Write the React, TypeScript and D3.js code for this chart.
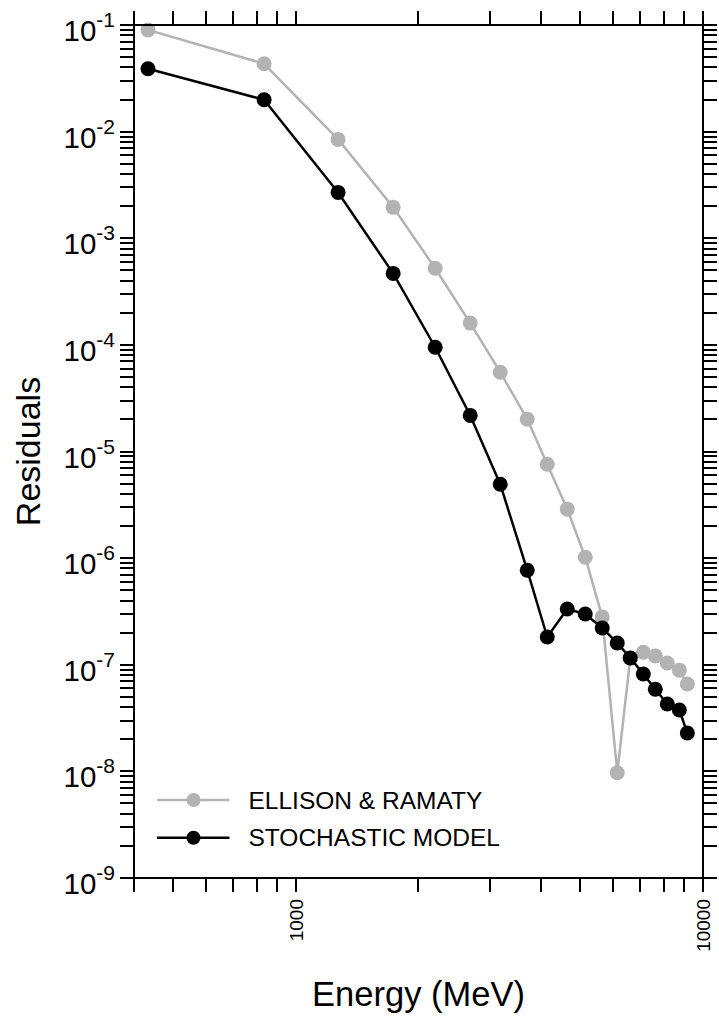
import React from 'react';
import * as d3 from 'd3';

// energy of each point (MeV), shared by both series
const energies = [433, 835, 1269, 1733, 2198, 2680, 3176, 3700, 4143, 4640, 5137, 5655, 6157, 6627, 7134, 7635, 8172, 8747, 9152];
const ellisonRamaty = [9.0e-2, 4.33e-2, 8.45e-3, 1.95e-3, 5.23e-4, 1.6e-4, 5.54e-5, 2.01e-5, 7.6e-6, 2.88e-6, 1.02e-6, 2.8e-7, 9.7e-9, 1.15e-7, 1.31e-7, 1.21e-7, 1.04e-7, 8.9e-8, 6.6e-8];
const stochasticModel = [3.89e-2, 1.99e-2, 2.69e-3, 4.68e-4, 9.5e-5, 2.18e-5, 4.93e-6, 7.7e-7, 1.82e-7, 3.33e-7, 2.99e-7, 2.21e-7, 1.6e-7, 1.16e-7, 8.2e-8, 5.9e-8, 4.28e-8, 3.76e-8, 2.29e-8];
const xLabelValues = [1000, 10000];
const yExponents = [-9, -8, -7, -6, -5, -4, -3, -2, -1];
const minorMultipliers = [1, 2, 3, 4, 5, 6, 7, 8, 9];
const seriesNames = ['ELLISON & RAMATY', 'STOCHASTIC MODEL'];
const seriesColors = ['#b3b3b3', '#000000'];

const font = '"Liberation Sans", Arial, sans-serif';

export default function App() {
    const width = 719;
    const height = 1020;
    const left = 134, right = 703, top = 25, bottom = 878;
    const tickLen = 14;

    const x = d3.scaleLog().domain([400, 10000]).range([left, right]);
    const y = d3.scaleLog().domain([1e-9, 1e-1]).range([bottom, top]);

    const xTicks = x.ticks();
    // every decade gets ticks at 1..9, the last decade stops at its major tick
    const yTicks = yExponents.flatMap(e =>
        e === -1 ? [0.1] : minorMultipliers.map(k => k * Math.pow(10, e)));

    // all tick marks in one path, snapped to whole pixels so they stay crisp
    const tp = d3.path();
    xTicks.forEach(t => {
        const px = Math.round(x(t));
        tp.moveTo(px, bottom); tp.lineTo(px, bottom + tickLen);
        tp.moveTo(px, top); tp.lineTo(px, top - tickLen);
    });
    yTicks.forEach(t => {
        const py = Math.round(y(t));
        tp.moveTo(left, py); tp.lineTo(left - tickLen, py);
        tp.moveTo(right, py); tp.lineTo(right + tickLen, py);
    });

    const line = d3.line<[number, number]>()
        .x(d => x(d[0]))
        .y(d => y(d[1]));

    const series = [ellisonRamaty, stochasticModel].map((vals, i) => ({
        name: seriesNames[i],
        color: seriesColors[i],
        points: energies.map((e, j) => [e, vals[j]] as [number, number])
    }));

    return (
        <svg width={width} height={height} style={{ position: 'absolute', left: 0, top: 0, background: '#fff' }}
            fontFamily={font}>
            <rect x={0} y={0} width={width} height={height} fill="#fff" />

            {/* series, grey first so black sits on top */}
            {series.map(s => (
                <g key={s.name}>
                    <path d={line(s.points) || ''} fill="none" stroke={s.color} strokeWidth={2.5} />
                    {s.points.map((p, j) => (
                        <circle key={j} cx={x(p[0])} cy={y(p[1])} r={7.5} fill={s.color} />
                    ))}
                </g>
            ))}

            {/* frame and ticks, pointing outward on all four sides */}
            <rect x={left} y={top} width={right - left} height={bottom - top} fill="none" stroke="#000" strokeWidth={2} />
            <path d={tp.toString()} fill="none" stroke="#000" strokeWidth={2} />

            {/* x labels */}
            {xLabelValues.map(v => (
                <text key={v} transform={`translate(${x(v)},${bottom + tickLen + 7}) rotate(-90)`}
                    textAnchor="end" dy="0.35em" fontSize={19}>{v}</text>
            ))}

            {/* y labels */}
            {yExponents.map(e => (
                <text key={e} x={left - tickLen - 5} y={y(Math.pow(10, e)) + 16} textAnchor="end" fontSize={29.5}>
                    10<tspan fontSize={21} dy={-14}>{e}</tspan>
                </text>
            ))}

            {/* axis titles */}
            <text x={(left + right) / 2} y={1006} textAnchor="middle" fontSize={34.5}>Energy (MeV)</text>
            <text transform={`translate(40,${(top + bottom) / 2}) rotate(-90)`} textAnchor="middle" fontSize={34}>Residuals</text>

            {/* legend */}
            {series.map((s, i) => (
                <g key={'lg' + i} transform={`translate(157,${800 + i * 37.7})`}>
                    <line x1={0} x2={72.5} y1={0} y2={0} stroke={s.color} strokeWidth={2.5} />
                    <circle cx={36.5} cy={0} r={7} fill={s.color} />
                    <text x={91.5} y={8.5} fontSize={24.5}>{s.name}</text>
                </g>
            ))}
        </svg>
    );
}
